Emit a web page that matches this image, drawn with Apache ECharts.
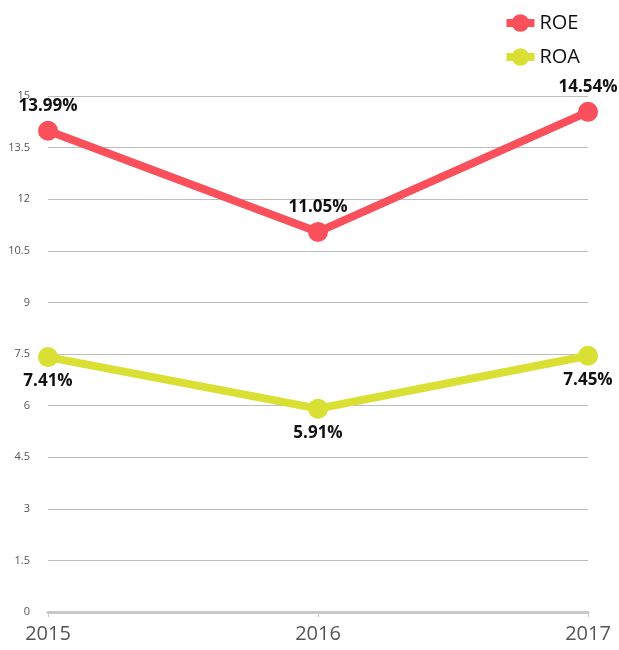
<!DOCTYPE html>
<html><head><meta charset="utf-8">
<script src="https://cdn.jsdelivr.net/npm/echarts@6/dist/echarts.min.js"></script>
<style>html,body{margin:0;padding:0;background:#fff}#c{width:619px;height:650px}</style>
</head><body><div id="c"></div>
<script>
const years = ['2015', '2016', '2017'];
const roe = [13.99, 11.05, 14.54];
const roa = [7.41, 5.91, 7.45];
const yTicks = [0, 1.5, 3, 4.5, 6, 7.5, 9, 10.5, 12, 13.5, 15];

const chart = echarts.init(document.getElementById('c'));
const font = 'Open Sans';
chart.setOption({
  animation: false,
  textStyle: { fontFamily: font },
  legend: {
    orient: 'vertical', right: 34, top: 8, itemWidth: 28, itemHeight: 22, itemGap: 14,
    lineStyle: { width: 8 },
    textStyle: { fontSize: 20, color: '#111', fontFamily: font },
    data: ['ROE', 'ROA']
  },
  grid: { left: 48, right: 31, top: 96, bottom: 38 },
  xAxis: {
    type: 'category', data: years, boundaryGap: false,
    axisLine: { lineStyle: { color: '#c8c8c8', width: 3 } },
    axisTick: { show: true, lineStyle: { color: '#c8c8c8' }, length: 5 },
    axisLabel: { fontSize: 20, color: '#555', margin: 12, fontFamily: font,
      formatter: v => v }
  },
  yAxis: {
    type: 'value', min: 0, max: 15, interval: 1.5,
    axisLine: { show: false }, axisTick: { show: false },
    splitLine: { lineStyle: { color: '#bdbdbd', width: 1 } },
    axisLabel: { fontSize: 11, color: '#555', margin: 18, fontFamily: font,
      formatter: v => yTicks.includes(v) ? String(v) : '' }
  },
  series: [
    {
      name: 'ROE', type: 'line', data: roe, symbol: 'circle', symbolSize: 20,
      lineStyle: { width: 8, color: '#f9505c' }, itemStyle: { color: '#f9505c' },
      label: { show: true, position: 'top', distance: 6, fontSize: 17, fontWeight: 'bold', color: '#111',
        formatter: p => p.value.toFixed(2) + '%' }
    },
    {
      name: 'ROA', type: 'line', data: roa, symbol: 'circle', symbolSize: 20,
      lineStyle: { width: 8, color: '#d9df33' }, itemStyle: { color: '#d9df33' },
      label: { show: true, position: 'bottom', distance: 6, fontSize: 17, fontWeight: 'bold', color: '#111',
        formatter: p => p.value.toFixed(2) + '%' }
    }
  ]
});
</script></body></html>
